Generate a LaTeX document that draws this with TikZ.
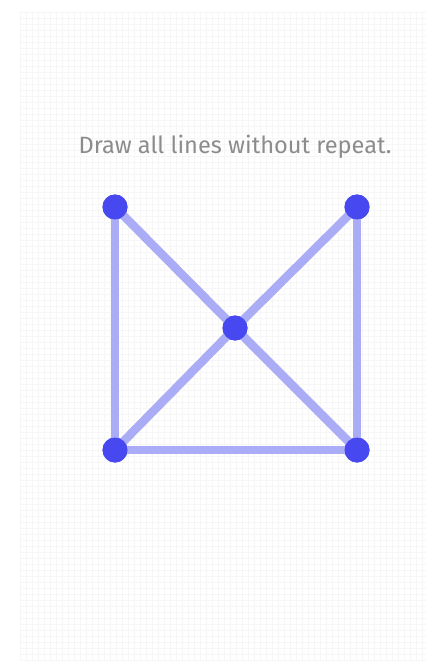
\documentclass[tikz,border=0pt]{standalone}
\usepackage{fontspec}
\setmainfont{Fira Sans}
\usepackage{tikz}
\usetikzlibrary{positioning}
\definecolor{dotblue}{RGB}{72,72,240}
\definecolor{edgeblue}{RGB}{170,172,246}
\definecolor{hintgray}{RGB}{140,140,140}

\begin{document}
\begin{tikzpicture}[x=1pt,y=-1pt,
    dot/.style={circle,fill=dotblue,minimum size=25pt,inner sep=0pt},
    edge/.style={draw=edgeblue,line width=8.5pt}]
    \fill[white] (0,0) rectangle (443,668);
    \useasboundingbox (0,0) rectangle (443,668);
    % faint paper grid
    \foreach \gx in {20,26,...,426}
      \draw[gray!7,line width=0.4pt] (\gx,12) -- (\gx,660);
    \foreach \gy in {12,18,...,660}
      \draw[gray!7,line width=0.4pt] (20,\gy) -- (426,\gy);
    \node[font=\fontsize{23.6}{28}\selectfont,text=hintgray] (hint) at (235,147) {Draw all lines without repeat.};
    % puzzle points
    \node[dot] (tl) at (115,207) {};
    \node[dot] (tr) at (357,207) {};
    \node[dot] (mid) at (235,328) {};
    \node[dot] (bl) at (115,450) {};
    \node[dot] (br) at (357,450) {};
    \draw[edge] (tl.center) -- (bl.center);
    \draw[edge] (tl.center) -- (mid.center);
    \draw[edge] (tr.center) -- (mid.center);
    \draw[edge] (tr.center) -- (br.center);
    \draw[edge] (mid.center) -- (bl.center);
    \draw[edge] (mid.center) -- (br.center);
    \draw[edge] (bl.center) -- (br.center);
    % redraw the points above the lines
    \foreach \p in {tl,tr,mid,bl,br}
      \fill[dotblue] (\p) circle (12.5);
\end{tikzpicture}
\end{document}
